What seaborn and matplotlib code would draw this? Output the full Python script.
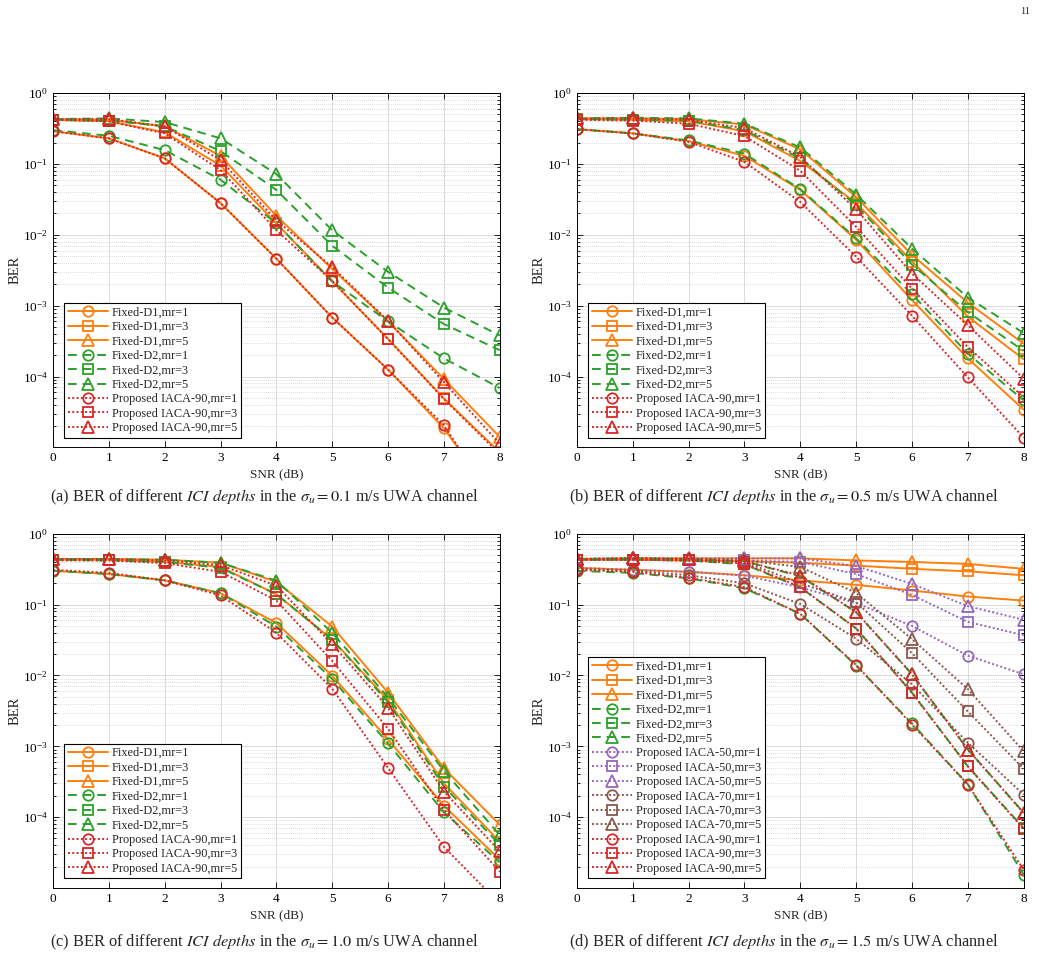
import matplotlib.pyplot as plt
import seaborn as sns
from matplotlib.ticker import LogLocator, NullFormatter

SNR_DB = [0, 1, 2, 3, 4, 5, 6, 7, 8]
MR_VALUES = [1, 3, 5]

# BER rows are ordered mr=1, mr=3, mr=5
# (a) sigma_u = 0.1 m/s
A_FIXED_D1 = [
    [0.29, 0.23, 0.12, 0.028, 0.0046, 6.8e-4, 1.25e-4, 1.85e-5, 1.5e-6],
    [0.42, 0.40, 0.28, 0.095, 0.0145, 0.0022, 3.4e-4, 4.9e-5, 8.5e-6],
    [0.43, 0.42, 0.34, 0.13, 0.0185, 0.0033, 6.0e-4, 9.2e-5, 1.4e-5],
]
A_FIXED_D2 = [
    [0.30, 0.25, 0.157, 0.06, 0.0145, 0.0022, 6.0e-4, 1.8e-4, 6.9e-5],
    [0.42, 0.41, 0.34, 0.152, 0.043, 0.007, 0.0018, 5.5e-4, 2.35e-4],
    [0.43, 0.44, 0.39, 0.23, 0.072, 0.0116, 0.003, 9.4e-4, 3.8e-4],
]
A_IACA_90 = [
    [0.29, 0.23, 0.12, 0.028, 0.0046, 6.8e-4, 1.25e-4, 2.05e-5, 1.3e-6],
    [0.42, 0.40, 0.27, 0.082, 0.0116, 0.00224, 3.35e-4, 4.8e-5, 8.0e-6],
    [0.43, 0.43, 0.34, 0.113, 0.016, 0.0035, 6.1e-4, 8.3e-5, 1.12e-5],
]

# (b) sigma_u = 0.5 m/s
B_FIXED_D1 = [
    [0.31, 0.27, 0.21, 0.13, 0.043, 0.0085, 0.0012, 1.8e-4, 3.4e-5],
    [0.43, 0.42, 0.40, 0.29, 0.11, 0.028, 0.0042, 7.0e-4, 1.75e-4],
    [0.44, 0.44, 0.43, 0.36, 0.16, 0.034, 0.0052, 1.1e-3, 2.9e-4],
]
B_FIXED_D2 = [
    [0.31, 0.27, 0.215, 0.14, 0.044, 0.0089, 0.00145, 2.1e-4, 4.6e-5],
    [0.43, 0.42, 0.41, 0.30, 0.12, 0.026, 0.0038, 8.1e-4, 2.3e-4],
    [0.44, 0.45, 0.44, 0.37, 0.171, 0.037, 0.0064, 1.3e-3, 4.1e-4],
]
B_IACA_90 = [
    [0.31, 0.27, 0.205, 0.107, 0.029, 0.0049, 7.2e-4, 9.7e-5, 1.37e-5],
    [0.42, 0.41, 0.37, 0.247, 0.08, 0.0129, 0.00174, 2.6e-4, 5.1e-5],
    [0.44, 0.44, 0.42, 0.32, 0.126, 0.0228, 0.00284, 5.3e-4, 9.3e-5],
]

# (c) sigma_u = 1.0 m/s
C_FIXED_D1 = [
    [0.30, 0.27, 0.22, 0.145, 0.055, 0.0099, 0.00125, 1.45e-4, 2.5e-5],
    [0.43, 0.43, 0.40, 0.34, 0.14, 0.032, 0.0045, 3.0e-4, 4.5e-5],
    [0.44, 0.44, 0.43, 0.39, 0.21, 0.049, 0.0057, 4.9e-4, 7.8e-5],
]
C_FIXED_D2 = [
    [0.30, 0.27, 0.22, 0.145, 0.049, 0.0089, 0.0011, 1.17e-4, 2.3e-5],
    [0.43, 0.42, 0.40, 0.33, 0.14, 0.032, 0.0042, 2.7e-4, 4.1e-5],
    [0.44, 0.44, 0.43, 0.39, 0.218, 0.04, 0.0049, 4.5e-4, 5.6e-5],
]
C_IACA_90 = [
    [0.31, 0.28, 0.22, 0.135, 0.04, 0.0065, 4.95e-4, 3.8e-5, 6.0e-6],
    [0.42, 0.42, 0.385, 0.29, 0.114, 0.016, 0.00177, 1.27e-4, 1.7e-5],
    [0.44, 0.44, 0.42, 0.36, 0.185, 0.0276, 0.0035, 2.3e-4, 3.3e-5],
]

# (d) sigma_u = 1.5 m/s
D_FIXED_D1 = [
    [0.33, 0.31, 0.29, 0.26, 0.22, 0.19, 0.158, 0.13, 0.114],
    [0.43, 0.43, 0.42, 0.41, 0.39, 0.355, 0.32, 0.295, 0.26],
    [0.44, 0.45, 0.45, 0.45, 0.45, 0.42, 0.40, 0.375, 0.32],
]
D_FIXED_D2 = [
    [0.30, 0.28, 0.235, 0.17, 0.074, 0.0138, 0.0021, 2.9e-4, 1.55e-5],
    [0.43, 0.43, 0.42, 0.37, 0.175, 0.046, 0.0057, 5.2e-4, 7.0e-5],
    [0.44, 0.45, 0.44, 0.41, 0.25, 0.078, 0.0104, 9.0e-4, 1.15e-4],
]
D_IACA_50 = [
    [0.33, 0.31, 0.29, 0.257, 0.175, 0.105, 0.05, 0.019, 0.0104],
    [0.43, 0.43, 0.43, 0.42, 0.40, 0.27, 0.137, 0.057, 0.037],
    [0.44, 0.45, 0.45, 0.45, 0.45, 0.35, 0.196, 0.095, 0.061],
]
D_IACA_70 = [
    [0.32, 0.30, 0.26, 0.20, 0.102, 0.033, 0.0075, 0.00112, 2.08e-4],
    [0.43, 0.43, 0.42, 0.40, 0.20, 0.108, 0.0206, 0.0031, 4.8e-4],
    [0.44, 0.45, 0.44, 0.42, 0.34, 0.146, 0.0326, 0.0064, 8.5e-4],
]
D_IACA_90 = [
    [0.31, 0.29, 0.24, 0.176, 0.074, 0.014, 0.00203, 2.88e-4, 1.8e-5],
    [0.43, 0.43, 0.42, 0.38, 0.176, 0.046, 0.0057, 5.2e-4, 6.8e-5],
    [0.44, 0.45, 0.44, 0.41, 0.257, 0.078, 0.0104, 9.0e-4, 1.14e-4],
]

# scheme -> (legend name, colour, line style)
STYLES = {
    "D1": ("Fixed-D1", "#FF7F0E", "-"),
    "D2": ("Fixed-D2", "#2CA02C", (0, (4.5, 3))),
    "P50": ("Proposed IACA-50", "#9467BD", (0, (1, 1.2))),
    "P70": ("Proposed IACA-70", "#8C564B", (0, (1, 1.2))),
    "P90": ("Proposed IACA-90", "#D62728", (0, (1, 1.2))),
}
# marker and size per mr value (triangles look smaller, so bump them)
MARKERS = [("o", 7.5), ("s", 7.2), ("^", 8.6)]

PANELS = [
    ("a", "0.1", [("D1", A_FIXED_D1), ("D2", A_FIXED_D2), ("P90", A_IACA_90)]),
    ("b", "0.5", [("D1", B_FIXED_D1), ("D2", B_FIXED_D2), ("P90", B_IACA_90)]),
    ("c", "1.0", [("D1", C_FIXED_D1), ("D2", C_FIXED_D2), ("P90", C_IACA_90)]),
    ("d", "1.5", [("D1", D_FIXED_D1), ("D2", D_FIXED_D2), ("P50", D_IACA_50),
                  ("P70", D_IACA_70), ("P90", D_IACA_90)]),
]

sns.set_theme(style="ticks")
plt.rcParams["font.family"] = ["Liberation Serif", "DejaVu Serif"]
plt.rcParams["mathtext.fontset"] = "stix"

fig = plt.figure(figsize=(10.39, 9.6), dpi=100)

# axes rectangles and caption centres in figure fractions
AX_POS = [(0.051, 0.534), (0.5553, 0.534), (0.051, 0.075), (0.5553, 0.075)]
AX_W, AX_H = 0.430, 0.369
CAPTION_POS = [(0.254, 0.482), (0.754, 0.482), (0.254, 0.018), (0.754, 0.018)]

for (tag, sigma, series), (x0, y0), (cx, cy) in zip(PANELS, AX_POS, CAPTION_POS):
    ax = fig.add_axes([x0, y0, AX_W, AX_H])
    for scheme, rows in series:
        name, color, ls = STYLES[scheme]
        for mr, (marker, msize), ber in zip(MR_VALUES, MARKERS, rows):
            sns.lineplot(
                x=SNR_DB, y=ber, ax=ax, legend=False,
                color=color, linestyle=ls, linewidth=1.4,
                marker=marker, markersize=msize, markerfacecolor="none",
                markeredgecolor=color, markeredgewidth=1.3,
                label=f"{name},mr={mr}",
            )

    ax.set_yscale("log")
    ax.set_ylim(1e-5, 1)
    ax.set_xlim(0, 8)
    ax.set_xticks(SNR_DB)
    ax.set_yticks([1e-4, 1e-3, 1e-2, 1e-1, 1])
    ax.yaxis.set_minor_locator(LogLocator(base=10, subs=range(2, 10), numticks=20))
    ax.yaxis.set_minor_formatter(NullFormatter())
    ax.set_facecolor("white")

    ax.grid(which="major", color="#D6D6D6", linewidth=0.6, linestyle="-")
    ax.grid(which="minor", axis="y", color="#BDBDBD", linewidth=0.5, linestyle=(0, (1, 2)))
    ax.set_axisbelow(True)

    ax.tick_params(which="both", direction="in", top=True, right=True,
                   labelsize=9.5, width=0.6, colors="black")
    ax.tick_params(which="major", length=4)
    ax.tick_params(which="minor", length=2)
    for spine in ax.spines.values():
        spine.set_color("black")
        spine.set_linewidth(0.7)

    ax.set_xlabel("SNR (dB)", fontsize=9.5, labelpad=3)
    ax.set_ylabel("BER", fontsize=10.5, labelpad=1)

    leg = ax.legend(
        loc="lower left", bbox_to_anchor=(0.025, 0.027), borderaxespad=0,
        fontsize=8.8, handlelength=3.3, handletextpad=0.3, labelspacing=0.2,
        borderpad=0.3, fancybox=False, framealpha=1, edgecolor="black",
    )
    leg.get_frame().set_linewidth(0.8)

    fig.text(cx, cy,
             f"({tag}) BER of different $\\mathit{{ICI\\ depths}}$ in the "
             f"$\\sigma_u = {sigma}$ m/s UWA channel",
             ha="center", va="center", fontsize=11.8)

fig.text(1025 / 1039, 1 - 12 / 960, "11", ha="center", va="center", fontsize=7.5)

fig.savefig("out.png", dpi=100)
